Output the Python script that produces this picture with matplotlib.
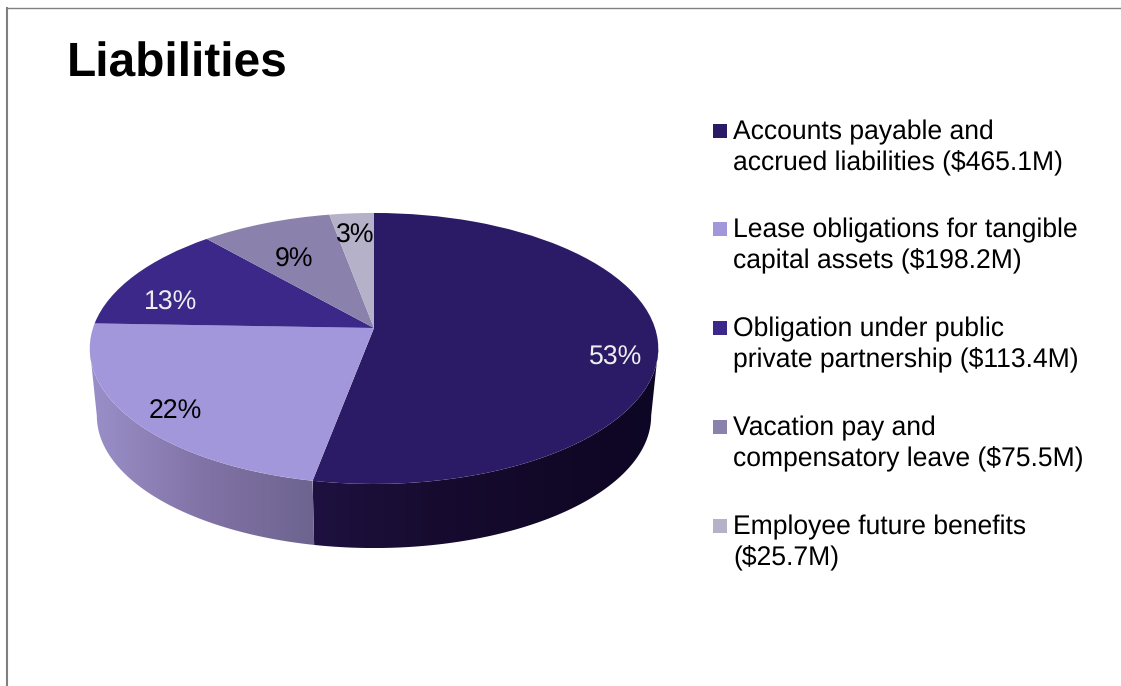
import numpy as np
import matplotlib
matplotlib.use("Agg")
import matplotlib.pyplot as plt
from matplotlib.colors import LinearSegmentedColormap
from matplotlib.patches import PathPatch, Rectangle
from matplotlib.path import Path
from matplotlib.transforms import Transform

plt.rcParams["font.family"] = ["Liberation Sans", "DejaVu Sans"]
plt.rcParams["text.hinting"] = "no_hinting"

title = "Liabilities"
amounts = [465.1, 198.2, 113.4, 75.5, 25.7]
share_labels = ["53%", "22%", "13%", "9%", "3%"]
legend_labels = [
    "Accounts payable and\naccrued liabilities ($465.1M)",
    "Lease obligations for tangible\ncapital assets ($198.2M)",
    "Obligation under public\nprivate partnership ($113.4M)",
    "Vacation pay and\ncompensatory leave ($75.5M)",
    "Employee future benefits\n($25.7M)",
]
slice_colors = ["#2b1a66", "#a397dc", "#3c2888", "#8a82ac", "#b5b1c9"]
label_colors = ["#eeeeee", "black", "#eeeeee", "black", "black"]
label_xy = [(616, 358), (175, 412), (171, 303), (294, 260), (355, 236)]
legend_baselines = [170, 268, 367, 466, 565]

# disc geometry, in pixels
CX, CY = 374, 328
RX, RY = 281, 132.4
TILT = 0.151
DEPTH = 68
BASE_SHRINK = 0.975


class TiltedDisc(Transform):
    """Perspective view of the unit disc, near edge towards the viewer."""
    input_dims = 2
    output_dims = 2

    def __init__(self, drop=0, shrink=1):
        super().__init__()
        self.drop = drop
        self.shrink = shrink

    def transform_non_affine(self, values):
        x, y = np.asarray(values).T
        w = 1 + TILT * y
        return np.column_stack([
            CX + self.shrink * RX * x / w,
            CY + self.drop - self.shrink * RY * y / w,
        ])


def rim(theta, tf):
    # theta in degrees, clockwise from 12 o'clock
    t = np.radians(theta)
    return tf.transform_non_affine(np.column_stack([np.sin(t), np.cos(t)]))


def draw_wall(ax, t0, t1, stops):
    top = rim(np.linspace(t0, t1, 80), TiltedDisc())
    base = rim(np.linspace(t1, t0, 80), TiltedDisc(DEPTH, BASE_SHRINK))
    verts = np.vstack([top, base, top[:1]])
    clip = PathPatch(Path(verts, closed=True), transform=ax.transData,
                     facecolor="none", edgecolor="none")
    ax.add_patch(clip)
    cmap = LinearSegmentedColormap.from_list("wall", stops)
    xmin, xmax = verts[:, 0].min(), verts[:, 0].max()
    ymin, ymax = verts[:, 1].min(), verts[:, 1].max()
    im = ax.imshow(np.linspace(0, 1, 256)[None, :], cmap=cmap, aspect="auto",
                   extent=(xmin, xmax, ymax, ymin), zorder=1)
    im.set_clip_path(clip)


fig = plt.figure(figsize=(11.21, 6.86), dpi=100, facecolor="white")
ax = fig.add_axes([0, 0, 1, 1])

wedges, _ = ax.pie(amounts, colors=slice_colors, startangle=90, counterclock=False,
                   wedgeprops={"linewidth": 0})
for w in wedges:
    w.set_transform(TiltedDisc() + ax.transData)
    w.set_zorder(2)

# side wall only shows between the two silhouette points of the rim
edge = np.degrees(np.arccos(-TILT))
ends = np.cumsum(amounts) / np.sum(amounts) * 360
draw_wall(ax, edge, ends[0], ["#1e1140", "#170c30", "#120828", "#0e0625"])
draw_wall(ax, ends[0], 360 - edge, ["#9a90c9", "#8273a6", "#6d648f"])

ax.set_aspect("auto")
ax.set_xlim(0, 1121)
ax.set_ylim(686, 0)
ax.axis("off")

# slide frame
ax.plot([7, 7], [7, 686], color="#808080", lw=1.5, solid_capstyle="butt", zorder=3)
ax.plot([6, 1121], [7.5, 7.5], color="#808080", lw=1, solid_capstyle="butt", zorder=3)

ax.text(66.5, 77, title, fontsize=34.5, fontweight="bold", color="black",
        ha="left", va="baseline", zorder=4)

for lab, col, (x, y) in zip(share_labels, label_colors, label_xy):
    ax.text(x, y, lab, color=col, fontsize=19.2, ha="center", va="center", zorder=4)

for lab, col, y in zip(legend_labels, slice_colors, legend_baselines):
    ax.add_patch(Rectangle((713, y - 46), 14, 14, facecolor=col, edgecolor="none", zorder=4))
    ax.text(733, y, lab, color="black", fontsize=19.1, ha="left", va="baseline",
            linespacing=1.24, zorder=4)

fig.savefig("out.png", dpi=100, facecolor="white")
